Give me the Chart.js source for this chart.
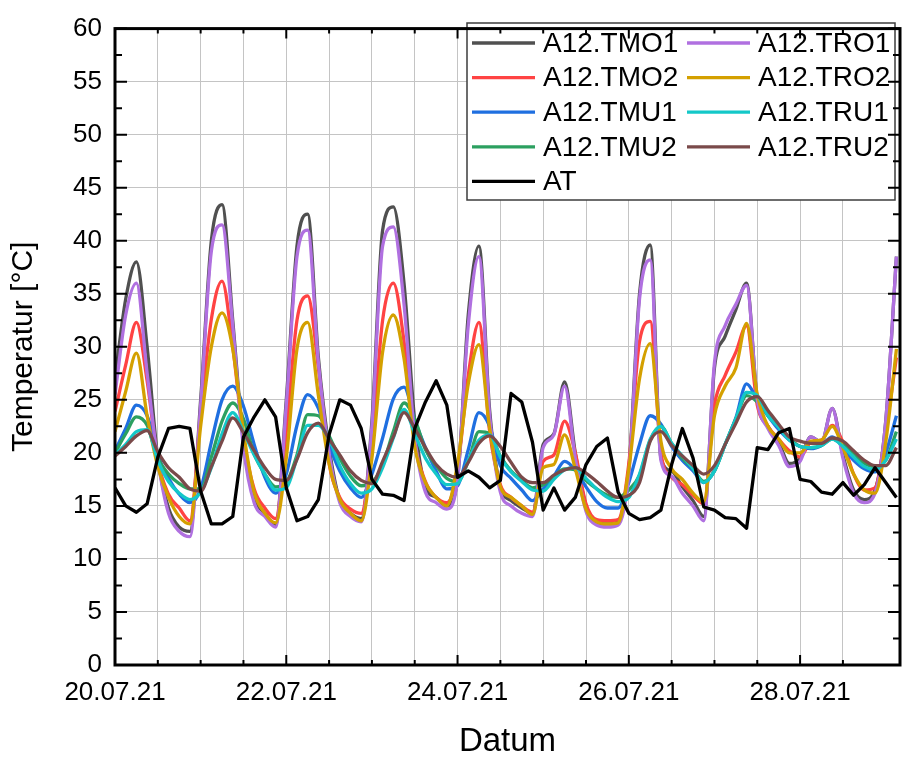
<!DOCTYPE html>
<html>
<head>
<meta charset="utf-8">
<script src="https://cdn.jsdelivr.net/npm/chart.js@4.4.0/dist/chart.umd.min.js"></script>
<style>
    html, body { margin: 0; padding: 0; background: #fff; overflow: hidden; }
    #wrap { width: 906px; height: 758px; overflow: hidden; }
</style>
</head>
<body>
<div id="wrap"><canvas id="tempChart" width="912" height="758"></canvas></div>
<script>

// hours since 20.07.21 00:00
const hours = [0, 3, 6, 9, 12, 15, 18, 21, 24, 27, 30, 33, 36, 39, 42, 45, 48, 51, 54, 57, 60, 63, 66, 69, 72,
    75, 78, 81, 84, 87, 90, 93, 96, 99, 102, 105, 108, 111, 114, 117, 120, 123, 126, 129, 132, 135, 138, 141, 144,
    147, 150, 153, 156, 159, 162, 165, 168, 171, 174, 177, 180, 183, 186, 189, 192, 195, 198, 201, 204, 207, 210,
    213, 216, 219];

const dateLabels = ['20.07.21', '22.07.21', '24.07.21', '26.07.21', '28.07.21'];

const tmo1 = [27, 34.5, 38, 30, 19.5, 14.8, 13, 12.6, 25,
    40, 43.4, 32.5, 21, 15.8, 14.3, 13.2, 25,
    39.5, 42.5, 29, 20.5, 15.5, 14.3, 13.8, 23,
    41, 43.2, 36, 23, 16.8, 15.8, 15, 17.5,
    33, 39.5, 24, 16.8, 15.5, 14.8, 14.3, 20.8,
    21.8, 26.7, 20, 15, 13.5, 13.3, 13.5, 18.5,
    35, 39.6, 19.5, 18.3, 16.8, 15.5, 14, 28,
    31, 33.5, 36, 25, 22.5, 21, 19, 19.5,
    21.5, 21, 24.2, 19.8, 16.5, 15.6, 16.5, 23, 38.5];

const tro1 = [25.5, 33, 36, 27.5, 19.3, 14.3, 12.6, 12.1, 24.5,
    39, 41.5, 32, 20.5, 15.3, 14, 13, 24.5,
    38.5, 41, 28.5, 20, 15.3, 14, 13.5, 22.5,
    39.5, 41.3, 34, 21.5, 16.3, 15.3, 14.7, 17.5,
    32, 38.5, 23.5, 16.3, 15, 14.3, 14, 20.5,
    21.7, 26.3, 19.5, 14.5, 13.2, 13, 13.2, 18,
    34.5, 38.2, 19.3, 17.8, 16.2, 15, 13.6, 28.5,
    32, 34, 35.8, 25, 22.3, 20.7, 18.7, 19.2,
    21.5, 21, 24.2, 19.5, 16.2, 15.3, 16.2, 23, 38.5];

const tmo2 = [23.9, 28.3, 32.3, 26.8, 19.3, 16.1, 14.8, 13.6, 23.6,
    32.6, 36.2, 30, 21.4, 16.6, 14.8, 13.8, 22,
    32.5, 34.8, 28, 19, 15.8, 14.7, 14.3, 21,
    32.5, 36, 30.5, 21, 17.3, 15.8, 15.3, 18.5,
    27.3, 32.3, 22, 17, 15.8, 15, 14.4, 19.2,
    19.8, 23, 20, 15.2, 13.7, 13.6, 13.7, 19,
    30.5, 32.4, 20, 17.7, 17, 16, 15.2, 24.5,
    27.3, 29.5, 32, 24.5, 22.5, 21.3, 20.2, 19.6,
    21, 21.2, 22.6, 21, 18, 16.5, 16.7, 22, 29];

const tro2 = [22, 25.8, 29.4, 23.5, 18.7, 15.8, 14, 13.3, 22.5,
    30, 33.2, 29.8, 22, 16.3, 14.3, 13.4, 19.5,
    29.8, 32.3, 25.4, 19, 15.6, 14.3, 13.6, 19.5,
    29.5, 33, 28.9, 20.6, 17.2, 15.8, 15, 19,
    26.5, 30.2, 22.3, 16.8, 15.8, 15, 14.2, 18.6,
    18.9, 21.7, 18.5, 14.7, 13.5, 13.3, 13.4, 18.5,
    27, 30.3, 21.1, 18.5, 17.5, 16.2, 15.4, 23.5,
    26.3, 28, 32.2, 25.5, 22.5, 21.3, 20, 20,
    21.1, 21.2, 22.5, 20.5, 18, 16.5, 16.2, 21, 29.8];

const tmu1 = [20.2, 22.3, 24.5, 23.5, 19.8, 17.6, 16.1, 15.3, 16.6,
    21, 25, 26.3, 24.4, 20.8, 17.7, 16.2, 18,
    22.6, 25.5, 24.2, 20.8, 18.3, 16.7, 15.8, 18,
    21.4, 25.1, 26.2, 23.1, 20.5, 18.3, 16.6, 16.9,
    20.3, 23.8, 22.5, 18.8, 17.6, 16.5, 15.5, 16.6,
    17.8, 19.2, 18.4, 16.8, 15.4, 14.8, 14.8, 17.2,
    20.8, 23.5, 22.7, 20.6, 19.3, 18.3, 17.2, 18.3,
    20.8, 23.3, 26.5, 25, 23.5, 22.2, 21.2, 20.6,
    20.4, 20.7, 21.5, 20.5, 19.3, 18.5, 18.2, 20, 23.5];

const tru1 = [19.8, 20.8, 22, 22.2, 19.3, 17.3, 16.2, 15.6, 16.3,
    18.6, 21.8, 23.8, 22, 19.8, 18, 16.5, 16.7,
    19.5, 22.6, 22.6, 21.3, 18.8, 17.1, 16.2, 16.6,
    18.6, 21.4, 24.1, 21.8, 19.5, 18, 17, 17.1,
    19.3, 21.2, 21.7, 19.6, 18.2, 17.3, 16.5, 16.4,
    17.5, 18.4, 18.6, 17.6, 16.6, 15.8, 15.4, 15.8,
    18, 21.3, 22.5, 20.9, 19.7, 18.5, 17.2, 18.3,
    20.8, 23.2, 25.7, 25.4, 23.5, 22.4, 21.2, 20.6,
    20.5, 20.7, 21.3, 20.6, 19.6, 18.7, 18.4, 19.3, 21.3];

const tmu2 = [20, 21.8, 23.4, 22.6, 19.5, 18, 17.1, 16.6, 16.6,
    19.6, 23, 24.7, 23.2, 19.9, 18, 16.8, 17.2,
    19.8, 23.6, 23.5, 21.6, 19.5, 17.8, 16.9, 17.2,
    18.9, 22, 24.7, 23.2, 20.3, 18.8, 17.6, 17.3,
    19.2, 22, 21.8, 19.7, 18.3, 17.4, 16.7, 17,
    17.8, 18.5, 18.4, 17.4, 16.6, 16, 15.8, 16.5,
    17.9, 21.2, 22.5, 20.9, 19.5, 18.5, 17.3, 18.3,
    20.8, 23.2, 25.4, 24.8, 23.5, 22.5, 21.4, 20.6,
    20.5, 20.7, 21.3, 20.8, 20, 19, 18.7, 19.3, 22];

const tru2 = [19.7, 20.6, 21.6, 22.1, 20.1, 18.6, 17.7, 16.6, 16.4,
    18.7, 21.1, 23.3, 21.9, 20.2, 18.6, 17.5, 17.4,
    19.4, 21.9, 22.8, 21.3, 19.8, 18.3, 17.4, 17.1,
    19.2, 21.5, 23.8, 22.3, 20.5, 18.9, 18, 17.7,
    19.1, 20.9, 21.6, 20.6, 19.1, 17.7, 17.2, 17.2,
    17.9, 18.4, 18.6, 18.1, 17.3, 16.4, 15.8, 16,
    17.2, 21.1, 22, 20.7, 19.7, 18.8, 18, 18.8,
    20.8, 22.8, 24.8, 25.3, 24, 22.7, 21.5, 21.1,
    20.9, 20.9, 21.4, 21.1, 20.2, 19.3, 18.8, 18.8, 20.5];

const at = [16.7, 15, 14.4, 15.2, 19.6, 22.3, 22.5, 22.3, 16.4,
    13.3, 13.3, 14, 21.5, 23.4, 25, 23.4, 16.7,
    13.6, 14, 15.6, 21.7, 25, 24.5, 22.3, 17.5,
    16.1, 16, 15.5, 22.3, 24.8, 26.8, 24.5, 17.7,
    18.3, 17.7, 16.7, 17.4, 25.6, 24.8, 21, 14.6,
    16.7, 14.6, 15.8, 18.9, 20.6, 21.4, 16.3, 14.3,
    13.7, 13.9, 14.6, 18.9, 22.3, 19.5, 14.9, 14.6,
    13.9, 13.8, 12.9, 20.5, 20.3, 21.9, 22.3, 17.5,
    17.3, 16.3, 16.1, 17.2, 16, 17, 18.6, 17.2, 15.8];


const fontFamily = "'Liberation Sans', Arial, sans-serif";
const gridColor = '#c4c4c4';

const points = (values) => hours.map((h, i) => ({ x: h, y: values[i] }));

// legend order is row by row, "order" sets what is drawn on top (lower = on top)
const series = [
    { label: 'A12.TMO1', data: tmo1, color: '#505050', order: 8 },
    { label: 'A12.TRO1', data: tro1, color: '#b070e0', order: 4 },
    { label: 'A12.TMO2', data: tmo2, color: '#ff4343', order: 7 },
    { label: 'A12.TRO2', data: tro2, color: '#d4a000', order: 3 },
    { label: 'A12.TMU1', data: tmu1, color: '#1f6fe0', order: 6 },
    { label: 'A12.TRU1', data: tru1, color: '#14c8c8', order: 2 },
    { label: 'A12.TMU2', data: tmu2, color: '#2ca060', order: 5 },
    { label: 'A12.TRU2', data: tru2, color: '#7a4a4a', order: 1 },
    { label: 'AT', data: at, color: '#000000', order: 0, straight: true },
];


// Legend box inside the plot, two columns
const boxLegend = {
    id: 'boxLegend',
    afterDatasetsDraw(chart) {
        const { ctx } = chart;
        const box = { x: 467, y: 23, w: 428, h: 177 };

        ctx.save();
        ctx.fillStyle = '#fff';
        ctx.fillRect(box.x, box.y, box.w, box.h);
        ctx.strokeStyle = '#3c3c3c';
        ctx.lineWidth = 1.5;
        ctx.strokeRect(box.x, box.y, box.w, box.h);

        ctx.font = `28px ${fontFamily}`;
        ctx.textBaseline = 'middle';
        ctx.textAlign = 'left';

        chart.data.datasets.forEach((ds, i) => {
            const col = i % 2;
            const row = Math.floor(i / 2);
            const lx = box.x + 5 + col * 215;
            const ly = box.y + 20 + row * 34.6;

            ctx.strokeStyle = ds.borderColor;
            ctx.lineWidth = 3.3;
            ctx.beginPath();
            ctx.moveTo(lx, ly);
            ctx.lineTo(lx + 63, ly);
            ctx.stroke();

            ctx.fillStyle = '#000';
            ctx.fillText(ds.label, lx + 71, ly + 1);
        });
        ctx.restore();
    }
};

// Frame with inward ticks on all four sides
const frame = {
    id: 'frame',
    afterDatasetsDraw(chart) {
        const { ctx, chartArea: a, scales: { x, y } } = chart;

        ctx.save();
        ctx.strokeStyle = '#000';
        ctx.lineWidth = 2;
        ctx.beginPath();

        y.ticks.forEach(t => {
            const py = y.getPixelForValue(t.value);
            const len = t.value % 5 === 0 ? 12 : 7;
            ctx.moveTo(a.left, py);
            ctx.lineTo(a.left + len, py);
            ctx.moveTo(a.right, py);
            ctx.lineTo(a.right - len, py);
        });

        x.ticks.forEach(t => {
            if (t.value % 12 !== 0) return;
            const px = x.getPixelForValue(t.value);
            const len = t.value % 48 === 0 ? 10 : 5;
            ctx.moveTo(px, a.bottom);
            ctx.lineTo(px, a.bottom - len);
            ctx.moveTo(px, a.top);
            ctx.lineTo(px, a.top + len);
        });
        ctx.stroke();

        ctx.lineWidth = 3;
        ctx.strokeRect(a.left, a.top, a.right - a.left, a.bottom - a.top);
        ctx.restore();
    }
};


new Chart(document.getElementById('tempChart'), {
    type: 'line',
    data: {
        datasets: series.map(s => ({
            label: s.label,
            data: points(s.data),
            borderColor: s.color,
            backgroundColor: s.color,
            order: s.order,
            cubicInterpolationMode: s.straight ? 'default' : 'monotone',
            tension: 0,
        }))
    },
    options: {
        responsive: false,
        animation: false,
        devicePixelRatio: 1,
        layout: {
            padding: { top: 22, right: 2, bottom: 0, left: 0 }
        },
        elements: {
            point: { radius: 0 },
            line: { borderWidth: 3.3, borderJoinStyle: 'round' }
        },
        plugins: {
            legend: { display: false },
            tooltip: { enabled: false }
        },
        scales: {
            x: {
                type: 'linear',
                min: 0,
                max: 220,
                afterFit: (scale) => { scale.height = 93; },
                border: { display: false },
                grid: {
                    drawTicks: false,
                    lineWidth: 1,
                    color: (c) => (c.tick && c.tick.value % 12 === 0) ? gridColor : 'rgba(0,0,0,0)'
                },
                ticks: {
                    stepSize: 12,
                    autoSkip: false,
                    maxRotation: 0,
                    padding: 12,
                    color: '#000',
                    font: { family: fontFamily, size: 26 },
                    callback: (v) => v % 48 === 0 ? dateLabels[v / 48] : ''
                },
                title: {
                    display: true,
                    text: 'Datum',
                    color: '#000',
                    padding: 0,
                    font: { family: fontFamily, size: 33, lineHeight: 1 }
                }
            },
            y: {
                min: 0,
                max: 60,
                afterFit: (scale) => { scale.width = 115; },
                border: { display: false },
                grid: {
                    drawTicks: false,
                    lineWidth: 1,
                    color: (c) => (c.tick && c.tick.value % 5 === 0) ? gridColor : 'rgba(0,0,0,0)'
                },
                ticks: {
                    stepSize: 2.5,
                    autoSkip: false,
                    padding: 13,
                    color: '#000',
                    font: { family: fontFamily, size: 26 },
                    callback: (v) => v % 5 === 0 ? String(v) : ''
                },
                title: {
                    display: true,
                    text: 'Temperatur [°C]',
                    color: '#000',
                    padding: { top: 9, bottom: 0 },
                    font: { family: fontFamily, size: 30, lineHeight: 1 }
                }
            }
        }
    },
    plugins: [boxLegend, frame]
});

</script>
</body>
</html>
